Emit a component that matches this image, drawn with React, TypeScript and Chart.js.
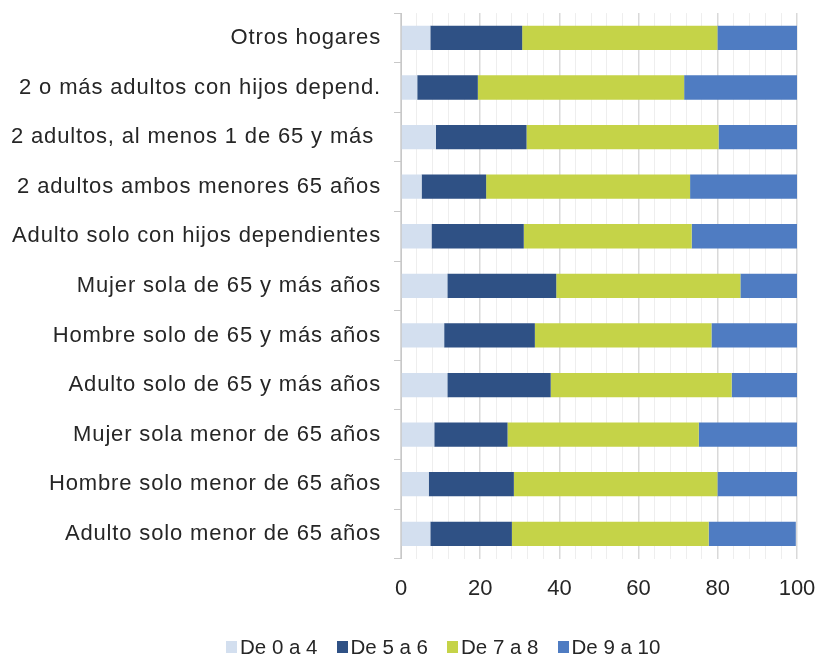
import React, { useEffect, useRef } from "react";
import { Chart, registerables } from "chart.js";

Chart.register(...registerables);

const categories = [
  "Otros hogares",
  "2 o más adultos con hijos depend.",
  "2 adultos, al menos 1 de 65 y más ",
  "2 adultos ambos menores 65 años",
  "Adulto solo con hijos dependientes",
  "Mujer sola de 65 y más años",
  "Hombre solo de 65 y más años",
  "Adulto solo de 65 y más años",
  "Mujer sola menor de 65 años",
  "Hombre solo menor de 65 años",
  "Adulto solo menor de 65 años",
];

const seriesNames = ["De 0 a 4", "De 5 a 6", "De 7 a 8", "De 9 a 10"];

const de0a4 = [7.4, 4.1, 8.8, 5.2, 7.7, 11.7, 10.9, 11.7, 8.4, 7.0, 7.4];
const de5a6 = [23.2, 15.3, 22.9, 16.3, 23.3, 27.5, 22.9, 26.1, 18.5, 21.5, 20.6];
const de7a8 = [49.3, 52.1, 48.5, 51.5, 42.4, 46.5, 44.6, 45.7, 48.3, 51.4, 49.7];
const de9a10 = [20.1, 28.5, 19.8, 27.0, 26.6, 14.3, 21.6, 16.5, 24.8, 20.1, 22.0];

const xTickLabels = [0, 20, 40, 60, 80, 100];

const colors = ["#D3DFEF", "#2F5185", "#C5D348", "#4F7CC2"];

const FONT = "'Liberation Sans', Arial, sans-serif";

const spacingPlugin = {
  id: "ySpacing",
  beforeDraw(chart: any) {
    const y = chart.scales.y;
    if (y && !y.__patched) {
      const orig = y.drawLabels;
      y.drawLabels = function (area: any) {
        const ctx = this.ctx;
        ctx.save();
        try {
          (ctx as any).letterSpacing = "0.85px";
        } catch (e) {}
        orig.call(this, area);
        ctx.restore();
      };
      y.__patched = true;
    }
  },
};

export default function App() {
  const ref = useRef<HTMLCanvasElement | null>(null);

  useEffect(() => {
    document.body.style.margin = "0";
    const canvas = ref.current;
    if (!canvas) return;
    const values = [de0a4, de5a6, de7a8, de9a10];
    const chart = new Chart(canvas, {
      type: "bar",
      data: {
        labels: categories,
        datasets: seriesNames.map((name, i) => ({
          label: name,
          data: values[i],
          backgroundColor: colors[i],
          borderWidth: 0,
          categoryPercentage: 1,
          barPercentage: 0.49,
        })),
      },
      plugins: [spacingPlugin],
      options: {
        indexAxis: "y",
        animation: false,
        responsive: false,
        maintainAspectRatio: false,
        layout: { padding: { top: 0, right: 23, left: 0, bottom: 55 } },
        plugins: {
          tooltip: { enabled: false },
          legend: { display: false },
        },
        scales: {
          x: {
            stacked: true,
            min: 0,
            max: 100,
            ticks: {
              stepSize: 4,
              autoSkip: false,
              maxRotation: 0,
              padding: 0,
              color: "#262626",
              font: { size: 22, family: FONT },
              callback: (v: any) => (xTickLabels.includes(Number(v)) ? String(v) : ""),
            },
            grid: {
              drawTicks: true,
              tickLength: 17,
              tickColor: "rgba(0,0,0,0)",
              color: (ctx: any) =>
                ctx.tick && xTickLabels.includes(ctx.tick.value) ? "#D9D9D9" : "#EEEEEE",
              lineWidth: (ctx: any) =>
                ctx.tick && xTickLabels.includes(ctx.tick.value) ? 1.5 : 1,
            },
            border: { display: false },
          },
          y: {
            stacked: true,
            afterFit: (scale: any) => {
              scale.width = 401;
            },
            ticks: {
              padding: 13,
              color: "#262626",
              font: { size: 22, family: FONT, lineHeight: 0.01 },
            },
            grid: {
              drawOnChartArea: false,
              drawTicks: true,
              tickLength: 7,
              color: "#C8C8C8",
              offset: true,
            },
            border: { display: true, color: "#C8C8C8" },
          },
        },
      },
    });
    return () => chart.destroy();
  }, []);

  return (
    <div style={{ position: "relative", width: 820, height: 657 }}>
      <canvas ref={ref} width={820} height={657} style={{ display: "block" }} />
      <div
        style={{
          position: "absolute",
          left: 226,
          top: 634,
          display: "flex",
          alignItems: "center",
          gap: 19,
          fontFamily: FONT,
          fontSize: 20.5,
          color: "#262626",
          lineHeight: "26px",
          whiteSpace: "nowrap",
        }}
      >
        {seriesNames.map((name, i) => (
          <div key={name} style={{ display: "flex", alignItems: "center" }}>
            <span
              style={{
                display: "inline-block",
                width: 11,
                height: 12,
                background: colors[i],
                marginRight: 3,
              }}
            />
            <span>{name}</span>
          </div>
        ))}
      </div>
    </div>
  );
}
